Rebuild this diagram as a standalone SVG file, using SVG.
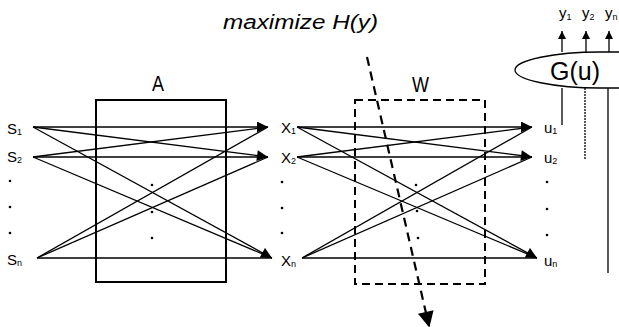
<svg xmlns="http://www.w3.org/2000/svg" width="619" height="327" viewBox="0 0 619 327">
<style>
.ln{stroke:#000;stroke-width:1.3;fill:none}
.box{stroke:#000;stroke-width:2;fill:none}
.dbox{stroke:#000;stroke-width:2;fill:none;stroke-dasharray:8 5}
.lbl{font-family:"Liberation Sans",Arial,sans-serif;font-size:15px;fill:#000}
.sub{font-size:9px}
.dot{fill:#000}
.big{font-family:"Liberation Sans",Arial,sans-serif;font-size:22px;fill:#000}
</style>
<defs>
<marker id="ah" viewBox="0 0 10 10" refX="10" refY="5" markerWidth="12" markerHeight="11" markerUnits="userSpaceOnUse" orient="auto">
<path d="M0,0 L10,5 L0,10 z" fill="#000"/>
</marker>
<marker id="ah2" viewBox="0 0 10 10" refX="9" refY="5" markerWidth="18" markerHeight="16" markerUnits="userSpaceOnUse" orient="auto">
<path d="M0,0 L10,5 L0,10 z" fill="#000"/>
</marker>
<marker id="ah3" viewBox="0 0 10 10" refX="10" refY="5" markerWidth="8" markerHeight="8" markerUnits="userSpaceOnUse" orient="auto">
<path d="M0,0 L10,5 L0,10 z" fill="#000"/>
</marker>
</defs>

<text x="223" y="29" font-family="'Liberation Sans',Arial,sans-serif" font-size="20" font-style="italic" textLength="155" lengthAdjust="spacingAndGlyphs">maximize H(y)</text>

<g id="boxA">
<rect class="box" x="96" y="100" width="130" height="182"/>
<text class="big" x="152" y="91" textLength="12" lengthAdjust="spacingAndGlyphs">A</text>
<circle class="dot" cx="152" cy="185" r="1.3"/>
<circle class="dot" cx="152" cy="212" r="1.3"/>
<circle class="dot" cx="152" cy="238" r="1.3"/>
</g>

<g id="boxW">
<rect class="dbox" x="355" y="100" width="130" height="184"/>
<text class="big" x="412" y="92" textLength="17" lengthAdjust="spacingAndGlyphs">W</text>
<circle class="dot" cx="416" cy="185" r="1.3"/>
<circle class="dot" cx="417" cy="211" r="1.3"/>
<circle class="dot" cx="418" cy="238" r="1.3"/>
</g>

<g id="sources">
<text class="lbl" x="7" y="134">S<tspan class="sub" dy="1">1</tspan></text>
<text class="lbl" x="7" y="162">S<tspan class="sub" dy="1">2</tspan></text>
<circle class="dot" cx="10" cy="181" r="1.3"/>
<circle class="dot" cx="10" cy="207" r="1.3"/>
<circle class="dot" cx="10" cy="233" r="1.3"/>
<text class="lbl" x="7" y="265">S<tspan class="sub" dy="1">n</tspan></text>
</g>

<g id="mixtures">
<text class="lbl" x="281" y="133">X<tspan class="sub" dy="1">1</tspan></text>
<text class="lbl" x="281" y="163">X<tspan class="sub" dy="1">2</tspan></text>
<circle class="dot" cx="282" cy="182" r="1.3"/>
<circle class="dot" cx="282" cy="208" r="1.3"/>
<circle class="dot" cx="282" cy="233" r="1.3"/>
<text class="lbl" x="281" y="266">X<tspan class="sub" dy="1">n</tspan></text>
</g>

<g id="outputs">
<text class="lbl" x="544" y="133">u<tspan class="sub" dy="1">1</tspan></text>
<text class="lbl" x="544" y="163">u<tspan class="sub" dy="1">2</tspan></text>
<circle class="dot" cx="547" cy="182" r="1.3"/>
<circle class="dot" cx="547" cy="209" r="1.3"/>
<circle class="dot" cx="547" cy="235" r="1.3"/>
<text class="lbl" x="544" y="266">u<tspan class="sub" dy="1">n</tspan></text>
</g>

<g id="Gu">
<path class="ln" d="M619,52 L600,52 C555,52 515,60 515,70 C515,80 555,88 600,88 L619,88"/>
<text x="575" y="80" text-anchor="middle" font-family="'Liberation Sans',Arial,sans-serif" font-size="25">G(u)</text>
<text class="lbl" x="559" y="18" font-size="11">y<tspan class="sub" dy="2" font-size="8">1</tspan></text>
<text class="lbl" x="582" y="18" font-size="11">y<tspan class="sub" dy="2" font-size="8">2</tspan></text>
<text class="lbl" x="605" y="18" font-size="11">y<tspan class="sub" dy="2" font-size="8">n</tspan></text>
</g>

<g id="connectors">
<line class="ln" x1="33" y1="127" x2="268" y2="127" marker-end="url(#ah)"/>
<line class="ln" x1="33" y1="127" x2="268" y2="157" marker-end="url(#ah)"/>
<line class="ln" x1="33" y1="127" x2="272" y2="258" marker-end="url(#ah)"/>
<line class="ln" x1="33" y1="157" x2="268" y2="127"/>
<line class="ln" x1="33" y1="157" x2="268" y2="157"/>
<line class="ln" x1="33" y1="157" x2="272" y2="258"/>
<line class="ln" x1="37" y1="258" x2="268" y2="127"/>
<line class="ln" x1="37" y1="258" x2="268" y2="157"/>
<line class="ln" x1="37" y1="258" x2="272" y2="258"/>

<line class="ln" x1="297" y1="127" x2="532" y2="127" marker-end="url(#ah)"/>
<line class="ln" x1="297" y1="127" x2="532" y2="157" marker-end="url(#ah)"/>
<line class="ln" x1="297" y1="127" x2="537" y2="258" marker-end="url(#ah)"/>
<line class="ln" x1="297" y1="157" x2="532" y2="127"/>
<line class="ln" x1="297" y1="157" x2="532" y2="157"/>
<line class="ln" x1="297" y1="157" x2="537" y2="258"/>
<line class="ln" x1="302" y1="258" x2="532" y2="127"/>
<line class="ln" x1="302" y1="258" x2="532" y2="157"/>
<line class="ln" x1="302" y1="258" x2="537" y2="258"/>

<line class="ln" x1="562" y1="88" x2="562" y2="125"/>
<line class="ln" x1="585" y1="88" x2="585" y2="159" stroke-dasharray="2 1"/>
<line class="ln" x1="608" y1="88" x2="608" y2="273"/>

<line class="ln" x1="562" y1="52" x2="562" y2="31" marker-end="url(#ah3)"/>
<line class="ln" x1="586" y1="52" x2="586" y2="31" marker-end="url(#ah3)"/>
<line class="ln" x1="609" y1="52" x2="609" y2="31" marker-end="url(#ah3)"/>

<line x1="367" y1="57" x2="429" y2="326" stroke="#000" stroke-width="2.2" stroke-dasharray="9 6" marker-end="url(#ah2)"/>
</g>
</svg>
